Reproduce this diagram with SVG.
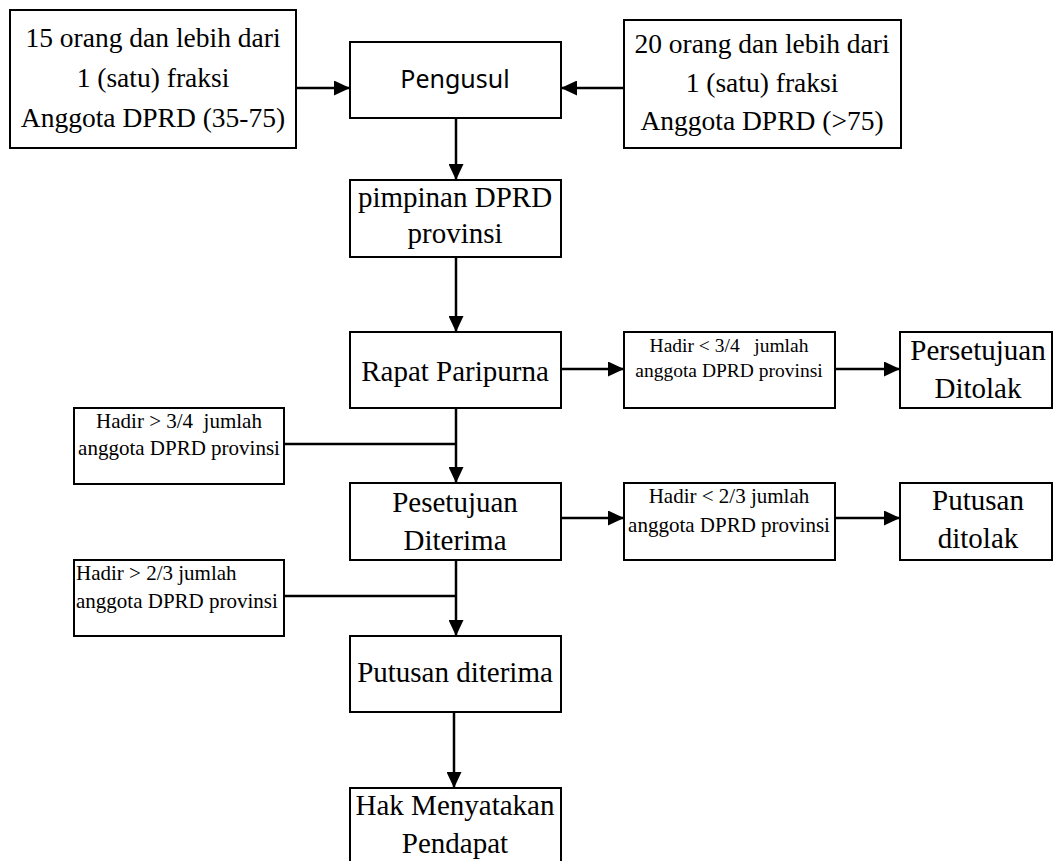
<svg xmlns="http://www.w3.org/2000/svg" width="1054" height="861" viewBox="0 0 1054 861">
<style>
.box{fill:#fff;stroke:#000;stroke-width:2}
.t{font-family:"Liberation Serif","Times New Roman",serif;fill:#000;text-anchor:middle}
.big{font-size:29px}
.top{font-size:27.5px}
.sm{font-size:21px}
.sm2{font-size:19.5px}
.sans{font-family:"Noto Sans","Liberation Sans",sans-serif;font-size:25px;fill:#000;text-anchor:middle}
.c{fill:none;stroke:#000;stroke-width:2.5}
.a{marker-end:url(#ah)}
</style>
<defs>
<marker id="ah" markerUnits="userSpaceOnUse" markerWidth="16" markerHeight="15" refX="16" refY="7.5" orient="auto">
<path d="M0,0 L16,7.5 L0,15 z" fill="#000"/>
</marker>
</defs>
<g id="connectors">
<line class="c a" x1="296" y1="88" x2="350" y2="88"/>
<line class="c a" x1="624" y1="88" x2="561" y2="88"/>
<line class="c a" x1="456" y1="118" x2="456" y2="180"/>
<line class="c a" x1="456" y1="257" x2="456" y2="332"/>
<line class="c a" x1="456" y1="408" x2="456" y2="483"/>
<line class="c" x1="284" y1="444" x2="456" y2="444"/>
<line class="c a" x1="561" y1="369" x2="624" y2="369"/>
<line class="c a" x1="835" y1="369" x2="900" y2="369"/>
<line class="c a" x1="456" y1="560" x2="456" y2="636"/>
<line class="c" x1="284" y1="596" x2="456" y2="596"/>
<line class="c a" x1="561" y1="518" x2="624" y2="518"/>
<line class="c a" x1="835" y1="518" x2="900" y2="518"/>
<line class="c a" x1="454" y1="712" x2="454" y2="788"/>
</g>
<g id="n1">
<rect class="box" x="10" y="10" width="286" height="138"/>
<text class="t top" x="153" y="47">15 orang dan lebih dari</text>
<text class="t top" x="153" y="87">1 (satu) fraksi</text>
<text class="t top" x="153" y="127">Anggota DPRD (35-75)</text>
</g>
<g id="n2">
<rect class="box" x="624" y="20" width="277" height="128"/>
<text class="t top" x="762" y="53">20 orang dan lebih dari</text>
<text class="t top" x="762" y="92">1 (satu) fraksi</text>
<text class="t top" x="762" y="130">Anggota DPRD (&gt;75)</text>
</g>
<g id="pengusul">
<rect class="box" x="350" y="42" width="211" height="76"/>
<text class="sans" x="455" y="88">Pengusul</text>
</g>
<g id="pimpinan">
<rect class="box" x="350" y="180" width="211" height="77"/>
<text class="t big" x="455" y="207">pimpinan DPRD</text>
<text class="t big" x="455" y="243">provinsi</text>
</g>
<g id="rapat">
<rect class="box" x="350" y="332" width="211" height="76"/>
<text class="t big" x="455" y="381">Rapat Paripurna</text>
</g>
<g id="c34a">
<rect class="box" x="74" y="408" width="210" height="76"/>
<text class="t sm" x="179" y="428" xml:space="preserve">Hadir &gt; 3/4  jumlah</text>
<text class="t sm" x="179" y="455">anggota DPRD provinsi</text>
</g>
<g id="c34b">
<rect class="box" x="624" y="332" width="211" height="76"/>
<text class="t sm2" x="729" y="352" xml:space="preserve">Hadir &lt; 3/4   jumlah</text>
<text class="t sm2" x="729" y="377">anggota DPRD provinsi</text>
</g>
<g id="tolak1">
<rect class="box" x="900" y="332" width="152" height="76"/>
<text class="t big" x="978" y="360">Persetujuan</text>
<text class="t big" x="978" y="398">Ditolak</text>
</g>
<g id="pesetujuan">
<rect class="box" x="350" y="483" width="211" height="77"/>
<text class="t big" x="455" y="512">Pesetujuan</text>
<text class="t big" x="455" y="550">Diterima</text>
</g>
<g id="c23a">
<rect class="box" x="74" y="560" width="210" height="76"/>
<text class="t sm" x="76" y="580" style="text-anchor:start">Hadir &gt; 2/3 jumlah</text>
<text class="t sm" x="76" y="608" style="text-anchor:start">anggota DPRD provinsi</text>
</g>
<g id="c23b">
<rect class="box" x="624" y="483" width="211" height="77"/>
<text class="t sm" x="729" y="503">Hadir &lt; 2/3 jumlah</text>
<text class="t sm" x="729" y="532">anggota DPRD provinsi</text>
</g>
<g id="tolak2">
<rect class="box" x="900" y="483" width="152" height="77"/>
<text class="t big" x="978" y="510">Putusan</text>
<text class="t big" x="978" y="548">ditolak</text>
</g>
<g id="putusan">
<rect class="box" x="350" y="636" width="211" height="76"/>
<text class="t big" x="455" y="682">Putusan diterima</text>
</g>
<g id="hak">
<rect class="box" x="350" y="788" width="211" height="90"/>
<text class="t big" x="455" y="815">Hak Menyatakan</text>
<text class="t big" x="455" y="853">Pendapat</text>
</g>
</svg>
